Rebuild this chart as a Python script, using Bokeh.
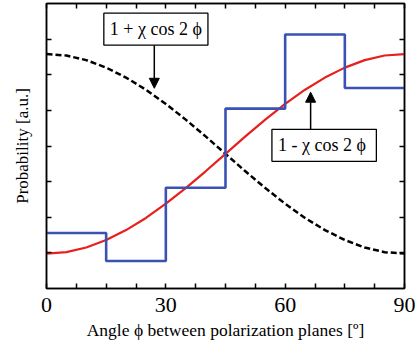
from bokeh.plotting import figure
from bokeh.models import (FixedTicker, LinearAxis, Label, Arrow, NormalHead, Range1d)
from bokeh.embed import file_html
from bokeh.resources import INLINE

# ---- data ----
angle = [0, 5, 10, 15, 20, 25, 30, 35, 40, 45, 50, 55, 60, 65, 70, 75, 80, 85, 90]
plus_curve = [6.58, 6.54, 6.41, 6.20, 5.92, 5.58, 5.18, 4.74, 4.27, 3.78,
              3.29, 2.82, 2.38, 1.98, 1.64, 1.36, 1.15, 1.02, 0.98]
minus_curve = [0.98, 1.02, 1.15, 1.36, 1.64, 1.98, 2.38, 2.82, 3.29, 3.78,
               4.27, 4.74, 5.18, 5.58, 5.92, 6.20, 6.41, 6.54, 6.58]
bin_edges = [0, 15, 30, 45, 60, 75, 90]
bin_values = [1.56, 0.77, 2.83, 5.05, 7.13, 5.63]
x_ticks = [0, 30, 60, 90]
x_minor = [7.5, 15, 22.5, 37.5, 45, 52.5, 67.5, 75, 82.5]
y_ticks = [1, 2, 3, 4, 5, 6, 7]

FONT = "Liberation Serif"

p = figure(width=418, height=345, output_backend="svg", toolbar_location=None,
           x_range=Range1d(0, 90), y_range=Range1d(0, 8),
           min_border_left=46, min_border_right=14, min_border_top=3, min_border_bottom=57,
           x_axis_location=None, y_axis_location=None)
p.grid.visible = False
p.outline_line_color = "black"
p.outline_line_width = 1.5
p.background_fill_color = "white"
p.border_fill_color = "white"

def make_axis(ticks, minor, labels=True, width=1.5):
    ax = LinearAxis(ticker=FixedTicker(ticks=ticks, minor_ticks=minor))
    ax.major_tick_in = 5
    ax.major_tick_out = 0
    ax.minor_tick_in = 5
    ax.minor_tick_out = 0
    ax.major_tick_line_width = 1.5
    ax.minor_tick_line_width = 1.5
    ax.axis_line_width = width
    ax.axis_line_color = "black"
    if labels:
        ax.major_label_text_font = FONT
        ax.major_label_text_font_size = "22px"
        ax.major_label_text_color = "black"
        ax.major_label_standoff = 9
    else:
        ax.major_label_text_font_size = "0px"
        ax.major_label_standoff = 0
        ax.major_label_text_alpha = 0
    return ax

bottom = make_axis(x_ticks, x_minor, labels=True)
bottom.axis_label = "Angle ϕ between polarization planes [º]"
bottom.axis_label_text_font = FONT
bottom.axis_label_text_font_size = "17.5px"
bottom.axis_label_text_font_style = "normal"
bottom.axis_label_text_color = "black"
bottom.axis_label_standoff = 5
top = make_axis(x_ticks, x_minor, labels=False)
left = make_axis(y_ticks, [], labels=False)
left.axis_label = "Probability [a.u.]"
left.axis_label_text_font = FONT
left.axis_label_text_font_size = "17px"
left.axis_label_text_font_style = "normal"
left.axis_label_text_color = "black"
left.axis_label_standoff = 15
right = make_axis(y_ticks, [], labels=False)
p.add_layout(bottom, "below")
p.add_layout(top, "above")
p.add_layout(left, "left")
p.add_layout(right, "right")

# curves
p.line(angle, plus_curve, line_color="black", line_width=2.5, line_dash="6 3")
p.line(angle, minus_curve, line_color="#e8201c", line_width=2.2)
step_y = bin_values + [bin_values[-1]]
p.step(bin_edges, step_y, mode="after", line_color="#3a52b4", line_width=2.6)

# annotation boxes
lab1 = Label(x=27.5, y=7.28, text="1 + χ cos 2 ϕ", text_align="center", text_baseline="middle",
             text_font=FONT, text_font_size="18px", text_color="black",
             border_line_color="black", border_line_width=1.3,
             background_fill_color="white", padding=6)
lab2 = Label(x=69.8, y=4.02, text="1 - χ  cos 2 ϕ", text_align="center", text_baseline="middle",
             text_font=FONT, text_font_size="18px", text_color="black",
             border_line_color="black", border_line_width=1.3,
             background_fill_color="white", padding=6)
p.add_layout(Arrow(end=NormalHead(size=10, fill_color="black", line_color="black"),
                   x_start=27.1, y_start=6.94, x_end=27.1, y_end=5.62,
                   line_color="black", line_width=1.5))
p.add_layout(Arrow(end=NormalHead(size=10, fill_color="black", line_color="black"),
                   x_start=66.4, y_start=4.35, x_end=66.4, y_end=5.51,
                   line_color="black", line_width=1.5))
p.add_layout(lab1)
p.add_layout(lab2)

open("out.html", "w").write(file_html(p, INLINE))
